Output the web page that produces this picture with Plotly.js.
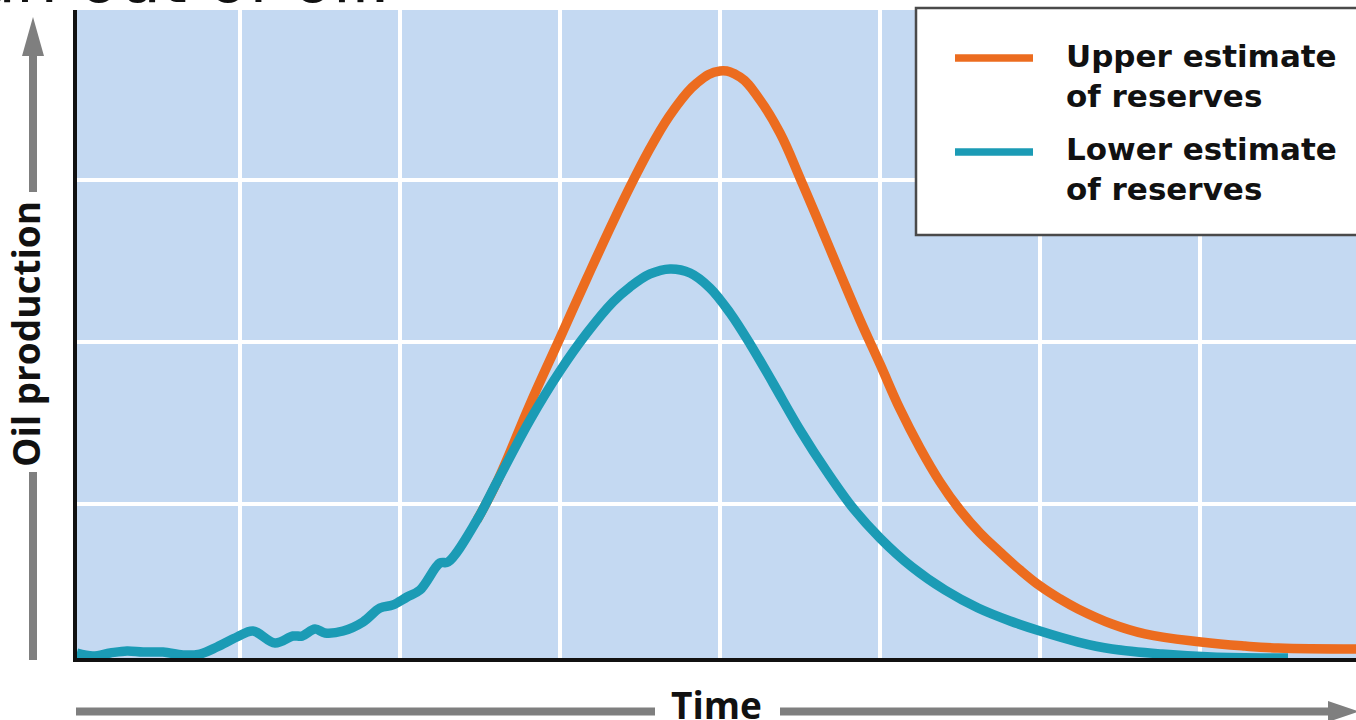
<!DOCTYPE html>
<html>
<head>
<meta charset="utf-8">
<script src="https://cdn.plot.ly/plotly-3.0.1.min.js"></script>
<style>html,body{margin:0;padding:0;background:#fff;}#chart{width:1356px;height:720px;}</style>
</head>
<body>
<div id="chart"></div>
<script>
// ---- data (time units arbitrary, production arbitrary) ----
const timeLower = [-0.2,0.81,1.88,2.94,3.94,5.19,6.44,7.5,8.56,9.81,10.81,12.19,13.31,13.88,14.69,15.31,16.44,17.69,18.75,19.56,20.44,21.25,22.5,23.0,24.81,26.06,28.13,30.0,31.69,33.31,34.38,35.63,36.88,38.13,39.38,40.63,41.88,43.31,45.0,46.69,48.31,50.0,52.0,54.06,56.13,58.13,60.0,62.38,64.5,67.63,70.75,75.5];
const lowerEstimate = [0.80,0.62,0.80,0.93,0.86,0.86,0.68,0.74,1.17,1.79,2.16,1.42,1.85,1.85,2.28,2.04,2.16,2.72,3.58,3.77,4.26,4.69,6.36,6.42,9.01,11.36,15.19,18.21,20.56,22.47,23.40,24.20,24.51,24.26,23.33,21.79,19.88,17.47,14.57,11.98,9.75,7.90,6.11,4.69,3.58,2.78,2.16,1.48,1.05,0.74,0.56,0.49];
const timeUpper = [24.81,26.06,28.13,30.0,31.69,33.31,34.56,35.81,37.06,38.56,40.0,41.25,42.5,43.75,45.0,46.25,47.5,48.75,50.0,51.25,52.5,53.75,55.0,56.25,57.5,58.75,60.0,61.25,62.38,64.5,66.56,70.06,72.81,74.88,79.75];
const upperEstimate = [9.01,11.36,16.17,20.25,23.95,27.41,29.94,32.28,34.26,35.99,36.73,36.36,34.94,32.90,30.12,27.22,24.26,21.36,18.64,15.86,13.46,11.36,9.63,8.21,7.04,5.93,4.94,4.14,3.52,2.59,1.98,1.48,1.23,1.11,1.05];
const seriesNames = ["Upper estimate<br>of reserves", "Lower estimate<br>of reserves"];
const seriesColors = ["#ec6c1f", "#1b9bb5"];
const gridTimes = [10,20,30,40,50,60,70];
const gridLevels = [10,20,30];
const xTitle = "Time";
const yTitle = "Oil production";
const headline = "run out of oil.";

// ---- layout geometry (pixels) ----
const L = 77, T = 10, PW = 1279, PH = 648;
const px = x => (x - L) / PW;
const py = y => (T + PH - y) / PH;
const grey = "#7f7f7f";

const traces = [
  {x: timeUpper, y: upperEstimate, name: seriesNames[0], type: "scatter", mode: "lines",
   line: {color: seriesColors[0], width: 9.5, shape: "spline", smoothing: 1.2}},
  {x: timeLower, y: lowerEstimate, name: seriesNames[1], type: "scatter", mode: "lines",
   line: {color: seriesColors[1], width: 9.5, shape: "spline", smoothing: 1}}
];

const axisFont = {family: "Open Sans", size: 37, color: "#111", weight: "bold"};
const legendFont = {family: "DejaVu Sans", size: 31, color: "#111", weight: "bold"};

// hand-drawn legend box (long line samples as in the reference)
const legendShapes = [
  {type: "rect", xref: "paper", yref: "paper", x0: px(916), x1: px(1380), y0: py(8), y1: py(235),
   fillcolor: "#ffffff", line: {color: "#4a4a4a", width: 2.5}},
  {type: "line", xref: "paper", yref: "paper", x0: px(955), x1: px(1033), y0: py(58), y1: py(58),
   line: {color: seriesColors[0], width: 7.5}},
  {type: "line", xref: "paper", yref: "paper", x0: px(955), x1: px(1033), y0: py(152), y1: py(152),
   line: {color: seriesColors[1], width: 7.5}}
];
const legendTexts = [
  {text: seriesNames[0], xref: "paper", yref: "paper", x: px(1064), y: py(76), xanchor: "left", yanchor: "middle",
   align: "left", showarrow: false, font: legendFont},
  {text: seriesNames[1], xref: "paper", yref: "paper", x: px(1064), y: py(169), xanchor: "left", yanchor: "middle",
   align: "left", showarrow: false, font: legendFont}
];

const layout = {
  width: 1356, height: 720,
  margin: {l: L, r: 0, t: T, b: 720 - T - PH, pad: 0},
  paper_bgcolor: "#ffffff",
  plot_bgcolor: "#c4d9f2",
  showlegend: false,
  xaxis: {
    range: [(L - 80) / 16, (1356 - 80) / 16],
    tickvals: gridTimes, showticklabels: false, ticks: "",
    showgrid: true, gridcolor: "#ffffff", gridwidth: 3.5, zeroline: false,
    showline: true, linecolor: "#111", linewidth: 4
  },
  yaxis: {
    range: [(666 - (T + PH)) / 16.2, (666 - T) / 16.2],
    tickvals: gridLevels, showticklabels: false, ticks: "",
    showgrid: true, gridcolor: "#ffffff", gridwidth: 3.5, zeroline: false,
    showline: true, linecolor: "#111", linewidth: 4,
    title: {text: yTitle, font: axisFont, standoff: 22}
  },
  annotations: [
    {text: headline, xref: "paper", yref: "paper", x: px(392), y: py(20), xanchor: "right", yanchor: "bottom",
     showarrow: false, font: {family: "DejaVu Sans", size: 66, color: "#111"}},
    {text: xTitle, xref: "paper", yref: "paper", x: px(716), y: py(704), xanchor: "center", yanchor: "middle",
     showarrow: false, font: axisFont}
  ].concat(legendTexts),
  shapes: [
    {type: "line", xref: "paper", yref: "paper", x0: px(33), x1: px(33), y0: py(52), y1: py(192), line: {color: grey, width: 8}},
    {type: "path", xref: "paper", yref: "paper", path: `M${px(33)},${py(17)} L${px(22)},${py(56)} L${px(44)},${py(56)} Z`, fillcolor: grey, line: {width: 0}},
    {type: "line", xref: "paper", yref: "paper", x0: px(33), x1: px(33), y0: py(472), y1: py(660), line: {color: grey, width: 8}},
    {type: "line", xref: "paper", yref: "paper", x0: px(76), x1: px(655), y0: py(711.5), y1: py(711.5), line: {color: grey, width: 8}},
    {type: "line", xref: "paper", yref: "paper", x0: px(780), x1: px(1332), y0: py(711.5), y1: py(711.5), line: {color: grey, width: 8}},
    {type: "path", xref: "paper", yref: "paper", path: `M${px(1359)},${py(711.5)} L${px(1328)},${py(701)} L${px(1328)},${py(722)} Z`, fillcolor: grey, line: {width: 0}}
  ].concat(legendShapes)
};

Plotly.newPlot("chart", traces, layout, {displayModeBar: false, staticPlot: true});
</script>
</body>
</html>
